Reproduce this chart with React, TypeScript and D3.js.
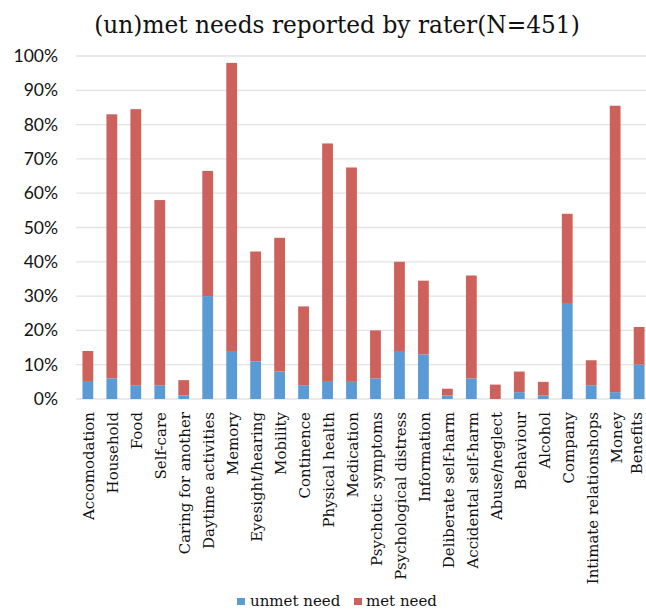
import * as d3 from "d3";

const categories = [
  "Accomodation", "Household", "Food", "Self-care", "Caring for another",
  "Daytime activities", "Memory", "Eyesight/hearing", "Mobility", "Continence",
  "Physical health", "Medication", "Psychotic symptoms", "Psychological distress",
  "Information", "Deliberate self-harm", "Accidental self-harm", "Abuse/neglect",
  "Behaviour", "Alcohol", "Company", "Intimate relationshops", "Money", "Benefits",
];

// percentages
const unmetNeed = [5, 6, 4, 4, 1, 30, 14, 11, 8, 4, 5, 5, 6, 14, 13, 1, 6, 0, 2, 1, 28, 4, 2, 10];
const metNeed = [9, 77, 80.5, 54, 4.5, 36.5, 84, 32, 39, 23, 69.5, 62.5, 14, 26, 21.5, 2, 30, 4.2, 6, 4, 26, 7.3, 83.5, 11];

const yTicks = [0, 10, 20, 30, 40, 50, 60, 70, 80, 90, 100];

const W = 646;
const H = 611;
const margin = { top: 56, left: 76, bottom: 399 };
const plotRight = 651;

const blue = "#5b9bd5";
const red = "#cd625d";

export default function App() {
  const x = d3.scaleBand<string>()
    .domain(categories)
    .range([margin.left, plotRight])
    .paddingInner(0.55)
    .paddingOuter(0.27);
  const y = d3.scaleLinear().domain([0, 100]).range([margin.bottom, margin.top]);

  const stacked = d3.stack<number>()
    .keys(["unmet", "met"])
    .value((i, key) => (key === "unmet" ? unmetNeed[i] : metNeed[i]))(
      d3.range(categories.length)
    );
  const colors = [blue, red];

  return (
    <svg width={W} height={H} style={{ position: "absolute", left: 0, top: 0 }}>
      <rect width={W} height={H} fill="#fff" />
      <text
        x={337}
        y={33}
        textAnchor="middle"
        fontFamily="DejaVu Serif"
        fontSize={23.3}
        fill="#111"
      >
        (un)met needs reported by rater(N=451)
      </text>

      {/* gridlines */}
      {yTicks.map((t) => (
        <line
          key={t}
          x1={margin.left}
          x2={plotRight}
          y1={y(t)}
          y2={y(t)}
          stroke="#e3e3e3"
          strokeWidth={1.3}
        />
      ))}

      {/* y ticks */}
      {yTicks.map((t) => (
        <text
          key={t}
          x={58}
          y={y(t) + 6}
          textAnchor="end"
          fontFamily="Lato"
          fontSize={17.5}
          fill="#111"
        >
          {t}%
        </text>
      ))}

      {/* bars */}
      {stacked.map((layer, li) => (
        <g key={layer.key} fill={colors[li]}>
          {layer.map((d, i) => (
            <rect
              key={i}
              x={x(categories[i])}
              width={x.bandwidth()}
              y={y(d[1])}
              height={Math.max(0, y(d[0]) - y(d[1]))}
            />
          ))}
        </g>
      ))}

      {/* category labels */}
      {categories.map((c) => {
        const cx = (x(c) ?? 0) + x.bandwidth() / 2;
        return (
          <text
            key={c}
            transform={`translate(${Math.min(cx + 6.5, 642)},412) rotate(-90)`}
            textAnchor="end"
            fontFamily="DejaVu Serif"
            fontSize={15}
            fill="#111"
          >
            {c}
          </text>
        );
      })}

      {/* legend */}
      <rect x={237} y={598} width={8} height={7} fill={blue} />
      <text x={250} y={606} fontFamily="DejaVu Serif" fontSize={15} fill="#111">
        unmet need
      </text>
      <rect x={354} y={598} width={8} height={7} fill={red} />
      <text x={366} y={606} fontFamily="DejaVu Serif" fontSize={15} fill="#111">
        met need
      </text>
    </svg>
  );
}
